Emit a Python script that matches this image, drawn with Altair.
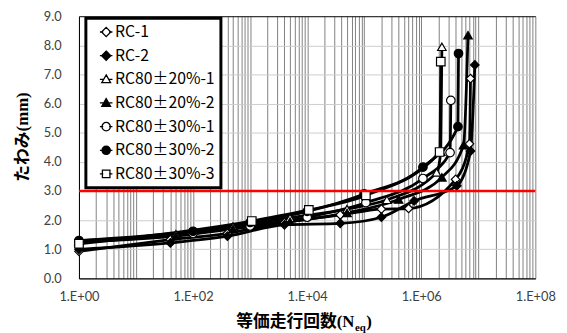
import altair as alt
import pandas as pd

# ---------------- data ----------------
series_names = ["RC-1", "RC-2", "RC80±20%-1", "RC80±20%-2",
                "RC80±30%-1", "RC80±30%-2", "RC80±30%-3"]

rc1_n = [1, 40, 400, 4000, 38000, 2.0e5, 6.0e5, 4.0e6, 7.0e6, 7.3e6]
rc1_d = [0.93, 1.33, 1.55, 1.92, 2.18, 2.38, 2.40, 3.40, 4.62, 6.86]

rc2_n = [1, 40, 400, 4000, 38000, 2.0e5, 7.5e5, 4.2e6, 7.3e6, 8.7e6]
rc2_d = [1.00, 1.22, 1.45, 1.84, 1.89, 2.10, 2.66, 3.18, 4.37, 7.33]

p20_1_n = [1, 50, 500, 5000, 5.0e4, 2.5e5, 1.86e6, 2.2e6, 2.3e6]
p20_1_d = [1.30, 1.52, 1.78, 2.08, 2.38, 2.70, 3.64, 4.35, 7.95]

p20_2_n = [1, 50, 500, 5000, 5.0e4, 4.0e5, 2.3e6, 5.5e6, 6.6e6]
p20_2_d = [1.25, 1.45, 1.70, 1.95, 2.25, 2.71, 3.47, 4.57, 8.35]

p30_1_n = [1, 100, 1000, 1.0e4, 1.07e5, 1.07e6, 3.2e6, 3.3e6]
p30_1_d = [1.25, 1.55, 1.80, 2.10, 2.60, 3.43, 4.32, 6.11]

p30_2_n = [1, 100, 1000, 1.0e4, 1.0e5, 1.07e6, 4.4e6, 4.5e6]
p30_2_d = [1.30, 1.62, 1.92, 2.30, 2.90, 3.82, 5.21, 7.72]

p30_3_n = [1, 1070, 1.07e4, 1.07e5, 2.1e6, 2.2e6]
p30_3_d = [1.19, 1.97, 2.35, 2.85, 4.34, 7.44]

threshold = [3.0]

y_tick_values = [0, 1, 2, 3, 4, 5, 6, 7, 8, 9]
x_grid_values = [m * 10.0 ** k for k in range(8) for m in range(1, 10)] + [1e8]

y_title = "たわみ(mm)"
x_title_main = ["等価走行回数(N"]
x_title_sub = ["eq"]
x_title_end = [")"]

# ---------------- styling ----------------
plot_shapes = ["diamond", "diamond", "triangle-up", "triangle-up",
               "circle", "circle", "square"]
fills = ["white", "black", "white", "black", "white", "black", "white"]
strokes = ["black"] * 7

diamond_p = "M0,-1.1L1.1,0L0,1.1L-1.1,0Z"
tri_p = "M0,-1.05L1.05,0.8L-1.05,0.8Z"
circ_p = "M1,0A1,1,0,1,1,-1,0A1,1,0,1,1,1,0Z"
sq_p = "M-0.9,-0.9H0.9V0.9H-0.9Z"
stub = "M-1.5,0H-0.7M0.7,0H1.5"
legend_paths = [stub + diamond_p, stub + diamond_p, stub + tri_p, stub + tri_p,
                stub + circ_p, stub + circ_p, stub + sq_p]

rows = []
for name, ns, ds in zip(series_names,
                        [rc1_n, rc2_n, p20_1_n, p20_2_n, p30_1_n, p30_2_n, p30_3_n],
                        [rc1_d, rc2_d, p20_1_d, p20_2_d, p30_1_d, p30_2_d, p30_3_d]):
    for n, d in zip(ns, ds):
        rows.append({"series": name, "N": n, "d": d})
df = pd.DataFrame(rows)

title_font = "Liberation Serif, Noto Sans CJK JP"
label_font = "Lato"

x_scale = alt.Scale(type="log", domain=[1, 1e8], nice=False)
y_scale = alt.Scale(domain=[0, 9], nice=False, zero=True)

x_label_expr = (
    "(abs(log(datum.value)/LN10 - round(log(datum.value)/LN10)) < 0.001 && "
    "round(log(datum.value)/LN10) % 2 == 0) ? '1.E+0' + round(log(datum.value)/LN10) : ''"
)

x_enc = alt.X(
    "N:Q", scale=x_scale, title=None,
    axis=alt.Axis(values=x_grid_values, labelExpr=x_label_expr, labelOverlap=False,
                  labelFlush=False, ticks=False, tickSize=0, grid=True,
                  gridColor="#808080", gridWidth=1, domainColor="black", domainWidth=1.3,
                  labelPadding=12, labelFont=label_font, labelFontSize=13,
                  labelColor="#404040"),
)
y_enc = alt.Y(
    "d:Q", scale=y_scale, title=y_title,
    axis=alt.Axis(values=y_tick_values, format=".1f", ticks=False, tickSize=0, grid=True,
                  labelOverlap=False, labelFlush=False,
                  gridColor={"condition": {"test": "datum.value == 9", "value": "black"},
                             "value": "#cccccc"},
                  gridWidth=1, domainColor="black", domainWidth=1,
                  labelPadding=18, labelFont=label_font, labelFontSize=13,
                  labelColor="#404040",
                  titleFont=title_font, titleFontSize=17, titleFontWeight="bold",
                  titleColor="black", titleX=-57, titleY=122, titleBaseline="middle",
                  titleAlign="center"),
)

base = alt.Chart(df)

lines = base.mark_line(color="black", strokeWidth=2.8, interpolate="monotone").encode(
    x=x_enc, y=y_enc, detail="series:N"
)

points = base.mark_point(filled=True, size=75, stroke="black", strokeWidth=1.2,
                         opacity=1).encode(
    x=x_enc, y=y_enc,
    shape=alt.Shape("series:N", scale=alt.Scale(domain=series_names, range=plot_shapes),
                    legend=None),
    fill=alt.Fill("series:N", scale=alt.Scale(domain=series_names, range=fills),
                  legend=None),
)

red = alt.Chart(pd.DataFrame({"d": threshold})).mark_rule(
    color="#ff0000", strokeWidth=2.5).encode(y=y_enc)

leg = alt.Legend(title=None, orient="none", legendX=7, legendY=2, padding=6,
                 rowPadding=8, symbolOffset=6.6, labelOffset=1,
                 labelFont="Noto Sans CJK JP", labelFontSize=16, labelColor="black",
                 symbolSize=72, symbolStrokeWidth=1.3, symbolStrokeColor="black",
                 symbolOpacity=1, strokeColor="black", fillColor="white")

legend_layer = base.transform_filter("datum.N < 0").mark_point(
    filled=False, size=72, strokeWidth=1.3).encode(
    x=x_enc, y=y_enc,
    shape=alt.Shape("series:N", scale=alt.Scale(domain=series_names, range=legend_paths),
                    legend=leg),
    fill=alt.Fill("series:N", scale=alt.Scale(domain=series_names, range=fills),
                  legend=leg),
    stroke=alt.Stroke("series:N", scale=alt.Scale(domain=series_names, range=strokes),
                      legend=leg),
)

t_main = alt.Chart(pd.DataFrame({"t": x_title_main})).mark_text(
    align="right", baseline="alphabetic", font=title_font, fontSize=17,
    fontWeight="bold", color="black").encode(text="t:N", x=alt.value(279.5),
                                             y=alt.value(315))
t_sub = alt.Chart(pd.DataFrame({"t": x_title_sub})).mark_text(
    align="left", baseline="alphabetic", font=title_font, fontSize=11,
    fontWeight="bold", color="black").encode(text="t:N", x=alt.value(280),
                                             y=alt.value(319))
t_end = alt.Chart(pd.DataFrame({"t": x_title_end})).mark_text(
    align="left", baseline="alphabetic", font=title_font, fontSize=17,
    fontWeight="bold", color="black").encode(text="t:N", x=alt.value(291.5),
                                             y=alt.value(315))

chart = alt.layer(lines, points, red, legend_layer, t_main, t_sub, t_end).resolve_scale(
    shape="independent", fill="independent", stroke="independent"
).properties(
    width=463, height=266,
    autosize=alt.AutoSizeParams(type="none"),
    padding={"left": 72, "top": 6, "right": 24, "bottom": 53},
).configure_view(strokeWidth=0).configure_legend(strokeWidth=3)

chart.save("out.html", embed_options={"renderer": "svg", "actions": False})
